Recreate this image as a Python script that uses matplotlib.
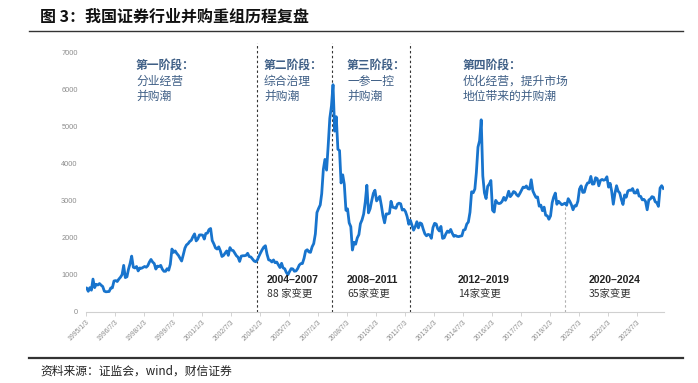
import matplotlib
matplotlib.use("Agg")
import matplotlib.pyplot as plt
import matplotlib.dates as mdates
import numpy as np
import pandas as pd

plt.rcParams['font.family'] = ['Noto Sans CJK SC', 'DejaVu Sans']

# ---- data: Shanghai Composite, monthly readings 1995/01 - 2024/11 ----
y1995 = [640, 550, 648, 580, 880, 650, 740, 720, 760, 716, 680, 555]
y1996 = [537, 540, 545, 641, 643, 829, 840, 814, 880, 930, 1000, 1250]
y1997 = [920, 943, 1140, 1300, 1500, 1200, 1180, 1220, 1100, 1180, 1170, 1194]
y1998 = [1220, 1200, 1240, 1340, 1410, 1340, 1300, 1150, 1230, 1220, 1250, 1147]
y1999 = [1090, 1090, 1160, 1120, 1280, 1690, 1600, 1640, 1570, 1520, 1440, 1367]
y2000 = [1535, 1715, 1800, 1836, 1894, 1928, 2023, 2100, 1910, 1960, 2070, 2073]
y2001 = [2065, 1960, 2110, 2120, 2215, 2245, 1920, 1830, 1720, 1690, 1750, 1646]
y2002 = [1490, 1520, 1580, 1640, 1520, 1730, 1660, 1650, 1580, 1510, 1470, 1357]
y2003 = [1500, 1510, 1510, 1520, 1576, 1487, 1477, 1421, 1367, 1348, 1397, 1497]
y2004 = [1590, 1675, 1742, 1780, 1555, 1400, 1386, 1342, 1396, 1321, 1340, 1266]
y2005 = [1191, 1306, 1181, 1159, 1060, 998, 1083, 1162, 1155, 1092, 1100, 1161]
y2006 = [1258, 1299, 1299, 1440, 1641, 1672, 1612, 1601, 1752, 1837, 2099, 2675]
y2007 = [2786, 2881, 3183, 3841, 4109, 3820, 4471, 5218, 5552, 6124, 4871, 5261]
y2008 = [4383, 4348, 3473, 3693, 3433, 2736, 2775, 2397, 2293, 1664, 1871, 1821]
y2009 = [1991, 2082, 2373, 2477, 2632, 2959, 3412, 2667, 2779, 2996, 3195, 3277]
y2010 = [2989, 3051, 3110, 2870, 2592, 2398, 2638, 2638, 2656, 2979, 2820, 2808]
y2011 = [2790, 2905, 2928, 2911, 2743, 2762, 2701, 2568, 2359, 2468, 2333, 2199]
y2012 = [2292, 2428, 2262, 2396, 2373, 2225, 2103, 2047, 2086, 2069, 1980, 2269]
y2013 = [2385, 2365, 2237, 2178, 2301, 1979, 1994, 2098, 2175, 2141, 2220, 2116]
y2014 = [2033, 2056, 2033, 2026, 2039, 2048, 2202, 2217, 2364, 2420, 2683, 3235]
y2015 = [3210, 3310, 3748, 4441, 4612, 5178, 3664, 3206, 3053, 3383, 3445, 3539]
y2016 = [2738, 2688, 3004, 2938, 2917, 2930, 2979, 3085, 3005, 3100, 3250, 3104]
y2017 = [3159, 3242, 3223, 3155, 3117, 3192, 3273, 3361, 3349, 3393, 3317, 3307]
y2018 = [3560, 3259, 3169, 3082, 3095, 2847, 2876, 2725, 2821, 2603, 2588, 2494]
y2019 = [2585, 2941, 3091, 3200, 2899, 2979, 2933, 2886, 2905, 2929, 2871, 3050]
y2020 = [2977, 2880, 2750, 2860, 2852, 2985, 3310, 3396, 3218, 3225, 3392, 3473]
y2021 = [3483, 3650, 3442, 3447, 3615, 3591, 3397, 3544, 3568, 3547, 3564, 3640]
y2022 = [3361, 3462, 3252, 2900, 3186, 3399, 3253, 3202, 3024, 2893, 3151, 3089]
y2023 = [3255, 3280, 3273, 3323, 3205, 3202, 3291, 3120, 3110, 3018, 3030, 2975]
y2024 = [2750, 3015, 3041, 3105, 3087, 2967, 2939, 2842, 3336, 3400, 3326]

index_values = (y1995 + y1996 + y1997 + y1998 + y1999 + y2000 + y2001 + y2002
                + y2003 + y2004 + y2005 + y2006 + y2007 + y2008 + y2009 + y2010
                + y2011 + y2012 + y2013 + y2014 + y2015 + y2016 + y2017 + y2018
                + y2019 + y2020 + y2021 + y2022 + y2023 + y2024)

tick_labels = ["1995/1/3", "1996/7/3", "1998/1/3", "1999/7/3", "2001/1/3", "2002/7/3",
               "2004/1/3", "2005/7/3", "2007/1/3", "2008/7/3", "2010/1/3", "2011/7/3",
               "2013/1/3", "2014/7/3", "2016/1/3", "2017/7/3", "2019/1/3", "2020/7/3",
               "2022/1/3", "2023/7/3"]
y_ticks = [0, 1000, 2000, 3000, 4000, 5000, 6000, 7000]

phase_lines = ["2003-11-01", "2007-09-28", "2011-10-12"]
phase_line_gray = "2019-10-12"
gray_line_top = 2900

stage_titles = ["第一阶段：", "第二阶段：", "第三阶段：", "第四阶段："]
stage_desc = [["分业经营", "并购潮"], ["综合治理", "并购潮"], ["一参一控", "并购潮"],
              ["优化经营，提升市场", "地位带来的并购潮"]]
period_labels = ["2004–2007", "2008–2011", "2012–2019", "2020–2024"]
change_labels = ["88 家变更", "65家变更", "14家变更", "35家变更"]

# ---- figure ----
W, H = 698, 383
fig = plt.figure(figsize=(W / 100, H / 100), dpi=100)
ax = fig.add_axes([86 / W, 1 - 311.7 / H, (664 - 86) / W, (311.7 - 43) / H])

dates = pd.date_range("1995-01-01", periods=len(index_values), freq="MS") + pd.Timedelta(days=14)
dates = dates.insert(0, pd.Timestamp("1995-01-03"))
vals = [index_values[0]] + index_values

ax.plot(dates, vals, color="#1874CD", lw=2.0, solid_joinstyle="round")

ax.set_xlim(pd.Timestamp("1995-01-03"), pd.Timestamp("2024-11-28"))
ax.set_ylim(0, 7250)

tick_dates = [pd.Timestamp(t.replace("/", "-")) for t in tick_labels]
ax.set_xticks(tick_dates)
ax.set_xticklabels(tick_labels, rotation=45, ha="right", va="top",
                   fontsize=4.9, color="#8c8c8c", family=["Liberation Sans"],
                   rotation_mode="anchor")
ax.set_yticks(y_ticks)
ax.set_yticklabels([str(v) for v in y_ticks], fontsize=5.3, color="#8c8c8c",
                   family=["Liberation Sans"])
ax.tick_params(axis="x", length=3, width=0.6, color="#cccccc", pad=2)
ax.tick_params(axis="y", length=0, pad=6)
for s in ["top", "right", "left"]:
    ax.spines[s].set_visible(False)
ax.spines["bottom"].set_color("#d0d0d0")
ax.spines["bottom"].set_linewidth(0.8)

for d in phase_lines:
    ax.axvline(pd.Timestamp(d), ymin=0, ymax=1, color="#333333", lw=0.8,
               ls=(0, (2.2, 2.2)), zorder=1)
ax.plot([pd.Timestamp(phase_line_gray)] * 2, [0, gray_line_top], color="#b0b0b0",
        lw=0.8, ls=(0, (2.2, 2.2)), zorder=1)

# ---- annotations (pixel coordinates) ----
def px(x, y):
    return x / W, 1 - y / H

stage_x = [136, 264, 347, 463]
blue_txt = "#3F5F86"
for i in range(4):
    fig.text(*px(stage_x[i], 65.5), stage_titles[i], fontsize=8.5, color=blue_txt,
             weight="bold", ha="left", va="center")
    for j, line in enumerate(stage_desc[i]):
        fig.text(*px(stage_x[i], 81 + 15 * j), line, fontsize=8.5, color=blue_txt,
                 ha="left", va="center")

period_x = [267, 347, 458, 589]
for i in range(4):
    fig.text(*px(period_x[i], 280), period_labels[i], fontsize=7.5, color="#222222",
             weight="bold", ha="left", va="center", family=["Liberation Sans", "Noto Sans CJK SC"])
    fig.text(*px(period_x[i], 295), change_labels[i], fontsize=7.5, color="#333333",
             ha="left", va="center")

# title and rules
fig.text(*px(40, 17), "图 3：我国证券行业并购重组历程复盘", fontsize=11.5, weight="bold",
         color="#111111", ha="left", va="center")
fig.add_artist(plt.Line2D([29 / W, 683 / W], [1 - 31 / H, 1 - 31 / H], color="#333333", lw=1.0))
fig.add_artist(plt.Line2D([29 / W, 683 / W], [1 - 357.5 / H, 1 - 357.5 / H], color="#333333", lw=1.6))
fig.text(*px(40, 371.5), "资料来源：证监会，wind，财信证券", fontsize=8.5, color="#222222",
         ha="left", va="center", style="italic")

fig.savefig("out.png", dpi=100)
